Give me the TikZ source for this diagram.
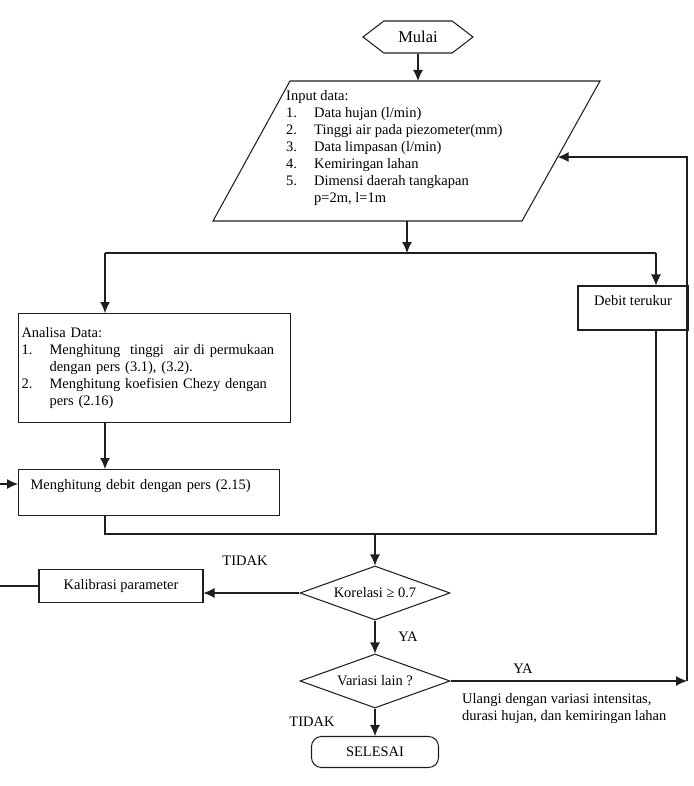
\documentclass[tikz,border=0pt]{standalone}
\usepackage{fontspec}
\setmainfont{Liberation Serif}
\usetikzlibrary{arrows.meta,calc,positioning,shapes.geometric,shapes.symbols}
\definecolor{lineGray}{HTML}{1E1E1E}
\tikzset{
  font=\fontsize{14.5}{17}\selectfont,
  arrow/.style={-{Latex[length=11pt,width=10pt]}, draw=lineGray, line width=1.05pt},
  link/.style={draw=lineGray, line width=1.05pt},
  startbox/.style={signal, signal to=east and west, signal pointer angle=75, draw=lineGray, line width=1.05pt, minimum width=110pt, minimum height=32pt, inner sep=0pt, font=\fontsize{16.5}{19}\selectfont},
  process/.style={rectangle, draw=lineGray, line width=1.05pt, align=left, inner xsep=3pt, inner ysep=4pt},
  decision/.style={diamond, draw=lineGray, line width=1.05pt, aspect=2.8, minimum width=150pt, minimum height=54pt, inner sep=0pt},
  endbox/.style={rectangle, rounded corners=10pt, draw=lineGray, line width=1.05pt, minimum width=127pt, minimum height=31pt},
  answer/.style={inner sep=0pt}
}

\begin{document}
\begin{tikzpicture}[x=1pt,y=-1pt]
\useasboundingbox (0,0) rectangle (693,786);

% --------------------------------------------------------------------------
% Mulai and input data
% --------------------------------------------------------------------------
\node[startbox] (mulai) at (418,37) {Mulai};

\coordinate (inTL) at (290,81);
\coordinate (inTR) at (600,81);
\coordinate (inBR) at (522,221);
\coordinate (inBL) at (213,221);
\draw[link] (inTL) -- (inTR) -- (inBR) -- (inBL) -- cycle;
\node[anchor=north west, inner sep=0pt] (inText) at (286,88) {\begin{tabular}{@{}p{28pt}@{}l@{}}
\multicolumn{2}{@{}l@{}}{Input data:}\\
1. & Data hujan (l/min)\\
2. & Tinggi air pada piezometer(mm)\\
3. & Data limpasan (l/min)\\
4. & Kemiringan lahan\\
5. & Dimensi daerah tangkapan\\
   & p=2m, l=1m
\end{tabular}};

\draw[arrow] (mulai.south) -- (mulai.south |- inTL);

\coordinate (inOut) at (407,221);
\coordinate (split) at (407,253);
\coordinate (splitL) at (105,253);
\coordinate (splitR) at (656,253);
\coordinate (inRight) at ($(inTR)!0.543!(inBR)$);
\draw[arrow] (inOut) -- (split);
\draw[link] (splitL) -- (splitR);

% --------------------------------------------------------------------------
% Analisa data, debit terukur, debit hitung
% --------------------------------------------------------------------------
\node[process, anchor=north west, minimum width=272pt, minimum height=109pt, text width=266pt] (anl) at (18,313) {\begin{tabular}{@{}p{28pt}@{}l@{}}
\multicolumn{2}{@{}l@{}}{Analisa Data:}\\
1. & Menghitung\ \ tinggi\ \ air di permukaan\\
   & dengan pers (3.1), (3.2).\\
2. & Menghitung koefisien Chezy dengan\\
   & pers (2.16)
\end{tabular}\\[-4pt]};
\node[process, align=center, minimum width=110pt, minimum height=44pt, text depth=15pt] (deb) at (633,308) {Debit terukur};
\node[process, anchor=north west, minimum width=261pt, minimum height=46pt, inner xsep=12pt, text width=237pt, text depth=16pt] (hit) at (18,469) {Menghitung debit dengan pers (2.15)};

\draw[arrow] (splitL) -- (splitL |- anl.north);
\draw[arrow] (splitR) -- (splitR |- deb.north);
\draw[arrow] (splitL |- anl.south) -- (splitL |- hit.north);

\coordinate (kalBack) at (0,484);
\draw[arrow] (kalBack) -- (kalBack -| hit.west);

\coordinate (merge) at (375,534);
\draw[link] (splitL |- hit.south) |- (splitR |- merge) -- (splitR |- deb.south);

% --------------------------------------------------------------------------
% Korelasi, kalibrasi, variasi, selesai
% --------------------------------------------------------------------------
\node[decision] (kor) at (375,593) {Korelasi ≥ 0.7};
\node[process, align=center, minimum width=164pt, minimum height=33pt, inner sep=0pt] (kal) at (121,586) {Kalibrasi parameter};
\node[decision] (var) at (375,681) {Variasi lain ?};
\node[endbox] (selesai) at (375,752) {SELESAI};

\draw[arrow] (merge) -- (kor.north);
\draw[arrow] (kor.west) -- (kor.west -| kal.east);
\draw[link] (kal.west) -- (kal.west -| kalBack);
\draw[arrow] (kor.south) -- (var.north);
\draw[arrow] (var.south) -- (selesai.north);

\coordinate (loopTurn) at (687,681);
\draw[arrow] (var.east) -- (loopTurn);
\draw[arrow] (loopTurn) -- (loopTurn |- inRight) -- (inRight);

\node[answer] (tidakKor) at (245,561) {TIDAK};
\node[answer] (yaKor) at (408,637) {YA};
\node[answer] (yaVar) at (523,669) {YA};
\node[answer] (tidakVar) at (312,722) {TIDAK};
\node[anchor=north west, inner sep=0pt, align=left] (ulangi) at (462,693) {Ulangi dengan variasi intensitas,\\durasi hujan, dan kemiringan lahan};

\end{tikzpicture}
\end{document}
